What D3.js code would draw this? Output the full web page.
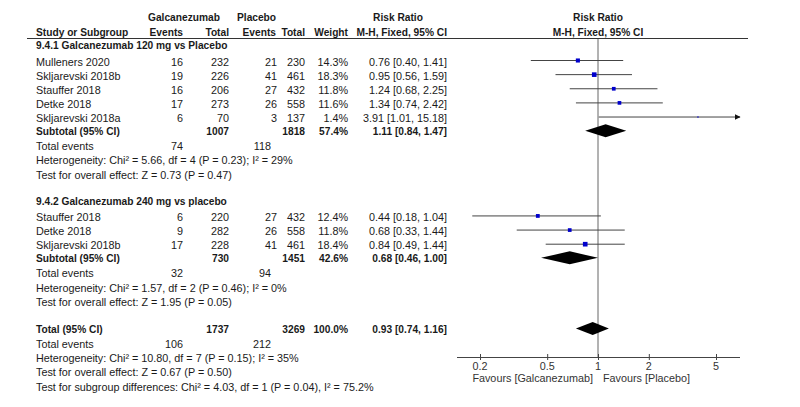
<!DOCTYPE html>
<html>
<head>
<meta charset="utf-8">
<script src="https://cdn.jsdelivr.net/npm/d3@7"></script>
<style>
  body { margin: 0; background: #fff; }
  svg text { font-family: "Liberation Sans", Arial, sans-serif; font-size: 10.8px; fill: #1a1a1a; }
  svg text.b { font-weight: bold; font-size: 10.2px; }
</style>
</head>
<body>
<svg id="chart" width="800" height="407"></svg>
<script>
// study rows: [name, e1, n1, e2, n2, weight, rr, lo, hi, row]
var studies = [
  ["Mulleners 2020",    16, 232, 21, 230, 14.3, 0.76, 0.40, 1.41, 0],
  ["Skljarevski 2018b", 19, 226, 41, 461, 18.3, 0.95, 0.56, 1.59, 1],
  ["Stauffer 2018",     16, 206, 27, 432, 11.8, 1.24, 0.68, 2.25, 2],
  ["Detke 2018",        17, 273, 26, 558, 11.6, 1.34, 0.74, 2.42, 3],
  ["Skljarevski 2018a",  6,  70,  3, 137,  1.4, 3.91, 1.01, 15.18, 4],
  ["Stauffer 2018",      6, 220, 27, 432, 12.4, 0.44, 0.18, 1.04, 11],
  ["Detke 2018",         9, 282, 26, 558, 11.8, 0.68, 0.33, 1.44, 12],
  ["Skljarevski 2018b", 17, 228, 41, 461, 18.4, 0.84, 0.49, 1.44, 13]
];
// pooled rows: [label, n1, n2, weight, rr, lo, hi, row]
var pooled = [
  ["Subtotal (95% CI)", 1007, 1818, "57.4%", 1.11, 0.84, 1.47, 5],
  ["Subtotal (95% CI)",  730, 1451, "42.6%", 0.68, 0.46, 1.00, 14],
  ["Total (95% CI)",    1737, 3269, "100.0%", 0.93, 0.74, 1.16, 19]
];
var subgroupTitles = [
  ["9.4.1 Galcanezumab 120 mg vs Placebo", -1],
  ["9.4.2 Galcanezumab 240 mg vs placebo", 10]
];
// total events rows: [e1, e2, row]
var totalEvents = [[74, 118, 6], [32, 94, 15], [106, 212, 20]];
var notes = [
  ["Heterogeneity: Chi\u00b2 = 5.66, df = 4 (P = 0.23); I\u00b2 = 29%", 7],
  ["Test for overall effect: Z = 0.73 (P = 0.47)", 8],
  ["Heterogeneity: Chi\u00b2 = 1.57, df = 2 (P = 0.46); I\u00b2 = 0%", 16],
  ["Test for overall effect: Z = 1.95 (P = 0.05)", 17],
  ["Heterogeneity: Chi\u00b2 = 10.80, df = 7 (P = 0.15); I\u00b2 = 35%", 21],
  ["Test for overall effect: Z = 0.67 (P = 0.50)", 22],
  ["Test for subgroup differences: Chi\u00b2 = 4.03, df = 1 (P = 0.04), I\u00b2 = 75.2%", 23]
];
var tickValues = [0.2, 0.5, 1, 2, 5];

var svg = d3.select("#chart");
var fmt2 = d3.format(".2f");
function ciText(rr, lo, hi){ return fmt2(rr) + " [" + fmt2(lo) + ", " + fmt2(hi) + "]"; }

var y = d3.scaleLinear().domain([0, 23]).range([60, 385]);
var x = d3.scaleLog().domain([0.2, 5]).range([480, 716]);
var xMin = 457, xMax = 740;

// column right edges
var colLeft = 36, colE1 = 183, colN1 = 229, colE2 = 277, colN2 = 305, colW = 348, colRR = 447;
var ty = function(r){ return y(r) + 5.5; };

function txt(g, s, tx, tyy, anchor, bold){
  return g.append("text").attr("x", tx).attr("y", tyy)
    .attr("text-anchor", anchor || "start")
    .attr("class", bold ? "b" : null).text(s);
}

// headers
var hdr = svg.append("g");
txt(hdr, "Galcanezumab", 148, 21, "start", true);
txt(hdr, "Placebo", 237, 21, "start", true);
txt(hdr, "Risk Ratio", 398, 21, "middle", true);
txt(hdr, "Risk Ratio", 598, 21, "middle", true);
txt(hdr, "Study or Subgroup", colLeft, 36, "start", true);
txt(hdr, "Events", colE1, 36, "end", true);
txt(hdr, "Total", colN1, 36, "end", true);
txt(hdr, "Events", colE2 - 1, 36, "end", true);
txt(hdr, "Total", colN2, 36, "end", true);
txt(hdr, "Weight", colW, 36, "end", true);
txt(hdr, "M-H, Fixed, 95% CI", colRR, 36, "end", true);
txt(hdr, "M-H, Fixed, 95% CI", 598, 36, "middle", true);

svg.append("line").attr("x1", 27).attr("x2", 748).attr("y1", 38.5).attr("y2", 38.5)
  .attr("stroke", "#333").attr("stroke-width", 1);

// vertical line of no effect
svg.append("line").attr("x1", x(1)).attr("x2", x(1)).attr("y1", 39).attr("y2", 357)
  .attr("stroke", "#666").attr("stroke-width", 1);

var tab = svg.append("g");
subgroupTitles.forEach(function(d){ txt(tab, d[0], colLeft, y(d[1]) + 3.5, "start", true); });

studies.forEach(function(d){
  var r = ty(d[9]);
  txt(tab, d[0], colLeft, r);
  txt(tab, d[1], colE1, r, "end");
  txt(tab, d[2], colN1, r, "end");
  txt(tab, d[3], colE2, r, "end");
  txt(tab, d[4], colN2, r, "end");
  txt(tab, d[5].toFixed(1) + "%", colW, r, "end");
  txt(tab, ciText(d[6], d[7], d[8]), colRR, r, "end");
});

pooled.forEach(function(d){
  var r = y(d[7]) + 4.5;
  txt(tab, d[0], colLeft, r, "start", true);
  txt(tab, d[1], colN1, r, "end", true);
  txt(tab, d[2], colN2, r, "end", true);
  txt(tab, d[3], colW, r, "end", true);
  txt(tab, ciText(d[4], d[5], d[6]), colRR, r, "end", true);
});

totalEvents.forEach(function(d){
  var r = ty(d[2]);
  txt(tab, "Total events", colLeft, r);
  txt(tab, d[0], colE1, r, "end");
  txt(tab, d[1], colE2 - 6, r, "end");
});

notes.forEach(function(d){ txt(tab, d[0], colLeft, ty(d[1])); });

// forest marks
var plot = svg.append("g");
svg.append("defs").append("marker").attr("id", "arr")
  .attr("viewBox", "0 0 10 10").attr("refX", 9).attr("refY", 5)
  .attr("markerWidth", 6).attr("markerHeight", 6).attr("orient", "auto")
  .append("path").attr("d", "M0,0L10,5L0,10Z").attr("fill", "#111");

studies.forEach(function(d){
  var cy = y(d[9]);
  var lo = Math.max(x(d[7]), xMin), hi = Math.min(x(d[8]), xMax);
  var ln = plot.append("line").attr("x1", lo).attr("x2", hi).attr("y1", cy + 0.5).attr("y2", cy + 0.5)
    .attr("stroke", "#444").attr("stroke-width", 1);
  if (x(d[8]) > xMax) ln.attr("marker-end", "url(#arr)");
  var s = Math.max(1.2, 1.08 * Math.sqrt(d[5]));
  plot.append("rect").attr("x", x(d[6]) - s / 2).attr("y", cy + 0.5 - s / 2)
    .attr("width", s).attr("height", s).attr("fill", "#0000cc");
});

pooled.forEach(function(d){
  var cy = y(d[7]), h = 6.5;
  plot.append("path")
    .attr("d", "M" + x(d[5]) + "," + cy + "L" + x(d[4]) + "," + (cy - h) + "L" + x(d[6]) + "," + cy +
      "L" + x(d[4]) + "," + (cy + h) + "Z")
    .attr("fill", "#000");
});

// axis
var axY = 357;
var ax = svg.append("g").attr("transform", "translate(0," + axY + ")");
ax.append("line").attr("x1", xMin).attr("x2", xMax).attr("y1", 0.5).attr("y2", 0.5)
  .attr("stroke", "#444").attr("stroke-width", 1);
var tk = ax.selectAll(".tk").data(tickValues).enter().append("g").attr("class", "tk")
  .attr("transform", function(d){ return "translate(" + x(d) + ",0)"; });
tk.append("line").attr("x1", 0.5).attr("x2", 0.5).attr("y1", -3).attr("y2", 3).attr("stroke", "#444");
tk.append("text").attr("y", 13).attr("text-anchor", "middle").style("fill", "#333")
  .text(function(d){ return d; });

txt(svg, "Favours [Galcanezumab]", 593, 382, "end").style("fill", "#333");
txt(svg, "Favours [Placebo]", 603, 382, "start").style("fill", "#333");
</script>
</body>
</html>
